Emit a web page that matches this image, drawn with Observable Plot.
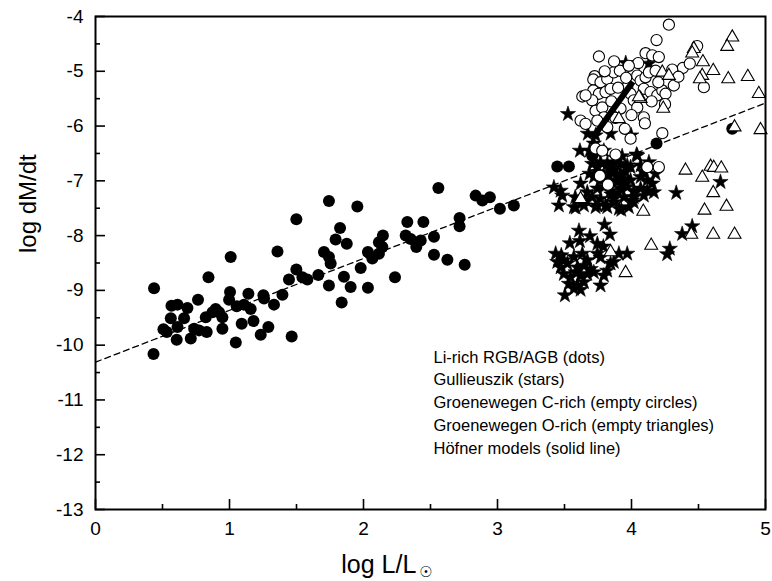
<!DOCTYPE html>
<html>
<head>
<meta charset="utf-8">
<script src="https://cdn.jsdelivr.net/npm/d3@7"></script>
<script src="https://cdn.jsdelivr.net/npm/@observablehq/plot@0.6"></script>
<style>
  html, body { margin: 0; padding: 0; background: white; }
</style>
</head>
<body>
<script>
// ---------- data (log L/Lsun, log dM/dt) ----------
const liRichDots = [
  [0.437,-8.96],[0.433,-10.16],[0.567,-9.28],[0.612,-9.26],[0.686,-9.32],[0.765,-9.17],
  [0.562,-9.51],[0.661,-9.51],[0.507,-9.71],[0.532,-9.76],[0.612,-9.67],[0.606,-9.90],
  [0.711,-9.88],[0.736,-9.70],[0.773,-9.73],[0.830,-9.76],[0.823,-9.49],[0.873,-9.40],
  [0.897,-9.34],[0.922,-9.40],[0.947,-9.49],[0.947,-9.70],[0.843,-8.76],[1.009,-8.39],
  [1.004,-9.03],[0.997,-9.17],[1.054,-9.29],[1.108,-9.26],[1.141,-9.06],[1.158,-9.34],
  [1.091,-9.61],[1.179,-9.56],[1.047,-9.95],[1.253,-9.09],[1.258,-9.15],[1.332,-9.26],
  [1.290,-9.67],[1.233,-9.81],[1.395,-9.08],[1.358,-8.29],[1.444,-8.80],[1.499,-8.62],
  [1.544,-8.76],[1.581,-8.80],[1.464,-9.84],[1.499,-7.70],[1.663,-8.72],[1.742,-7.37],
  [1.705,-8.30],[1.742,-8.39],[1.755,-8.51],[1.825,-7.86],[1.792,-8.07],[1.875,-8.15],
  [1.742,-8.91],[1.854,-8.75],[1.904,-8.94],[1.837,-9.22],[1.954,-7.47],[1.979,-8.59],
  [2.033,-8.30],[2.066,-8.42],[2.115,-8.33],[2.141,-8.21],[2.115,-8.12],[2.145,-8.00],
  [2.033,-8.95],[2.235,-8.76],[2.327,-7.75],[2.447,-7.75],[2.315,-8.00],[2.352,-8.06],
  [2.394,-8.21],[2.427,-8.09],[2.526,-8.02],[2.526,-8.35],[2.626,-8.44],[2.755,-8.53],
  [2.559,-7.13],[2.717,-7.68],[2.717,-7.83],[2.837,-7.27],[2.887,-7.36],[2.943,-7.30],
  [3.018,-7.51],[3.122,-7.45],[3.446,-6.74],[3.533,-6.74],[4.187,-6.32],[4.752,-6.05],
  [3.707,-6.54],[3.745,-6.45]
];

const gullieuszikStars = [
  [3.957,-4.85],[4.13,-4.86],[3.526,-5.78],[3.615,-6.45],[3.674,-6.14],[3.844,-6.14],
  [3.998,-6.17],[4.038,-6.52],[4.13,-6.66],[4.664,-7.02],[4.334,-7.22],[4.167,-7.21],
  [4.092,-7.27],[4.005,-7.36],[3.924,-7.53],[4.453,-7.83],[4.378,-7.97],[4.286,-8.24],
  [4.266,-8.34],[3.421,-7.12],[3.471,-7.18],[3.483,-7.27],[3.458,-7.45],[3.583,-7.49],
  [3.745,-7.45],[3.819,-7.48],[3.868,-7.39],
  [3.732,-6.17],[3.687,-6.45],[4.043,-6.54],[3.993,-6.75],[4.068,-6.72],[4.18,-6.87],
  [3.707,-6.69],[3.745,-6.75],[3.769,-6.66],[3.819,-6.69],[3.868,-6.66],[3.918,-6.69],
  [3.968,-6.72],[3.868,-6.81],[3.918,-6.87],[3.819,-6.87],[3.955,-6.84],[3.719,-6.93],
  [3.769,-6.99],[3.844,-6.99],[3.894,-7.02],[3.943,-6.96],[3.993,-6.99],[4.068,-6.93],
  [4.118,-6.99],[4.155,-7.05],[3.745,-7.14],[3.794,-7.11],[3.844,-7.18],[3.918,-7.14],
  [3.968,-7.11],[4.017,-7.18],[4.068,-7.14],[3.67,-7.21],[3.707,-7.30],[3.769,-7.33],
  [3.868,-7.33],[3.943,-7.30],[4.017,-7.30],[3.57,-7.48],[3.645,-7.45],[3.732,-7.48],
  [3.806,-7.45],[3.906,-7.51],[3.98,-7.48],[4.017,-7.39],[3.687,-6.87],[3.757,-6.84],
  [4.092,-6.84],[4.118,-7.18],[3.719,-6.32],[3.794,-6.45],[3.88,-6.58],[3.93,-6.55],
  [3.85,-7.25],[3.62,-7.05],[3.58,-7.30],[3.89,-6.92],[3.84,-6.78],[3.95,-7.05],
  [3.80,-6.95],[3.90,-7.22],[3.66,-7.35],
  [3.799,-7.80],[3.608,-7.91],[3.839,-7.98],[3.69,-8.01],[3.54,-8.14],[3.615,-8.10],
  [3.745,-8.15],[3.79,-8.20],[3.434,-8.33],[3.476,-8.36],[3.633,-8.33],[3.57,-8.39],
  [3.745,-8.33],[3.769,-8.40],[3.906,-8.33],[3.968,-8.33],[3.844,-8.51],[3.868,-8.48],
  [3.471,-8.58],[3.521,-8.51],[3.596,-8.58],[3.645,-8.55],[3.695,-8.61],[3.495,-8.70],
  [3.545,-8.76],[3.583,-8.67],[3.62,-8.73],[3.67,-8.70],[3.719,-8.67],[3.794,-8.73],
  [3.533,-8.88],[3.596,-8.91],[3.645,-8.85],[3.769,-8.91],[3.57,-8.97],[3.62,-8.99],
  [3.503,-9.09],[3.446,-8.48],[3.495,-8.45],[3.67,-8.45],[3.819,-8.64]
];

const cRichCircles = [
  [4.279,-4.15],[4.187,-4.43],[4.49,-4.54],[3.757,-4.73],[4.105,-4.67],[4.155,-4.71],
  [4.204,-4.74],[4.383,-4.94],[4.435,-4.86],[4.304,-4.97],[3.725,-5.09],[3.715,-5.15],
  [3.769,-5.20],[3.819,-5.14],[3.868,-5.02],[3.913,-4.99],[4.017,-4.99],[4.043,-5.08],
  [4.068,-5.17],[4.105,-5.11],[4.13,-5.02],[4.18,-4.99],[3.633,-5.46],[3.715,-5.35],
  [3.757,-5.41],[3.806,-5.38],[3.844,-5.32],[3.707,-5.53],[3.732,-5.72],[3.782,-5.66],
  [3.794,-5.84],[3.881,-5.75],[3.918,-5.68],[3.968,-5.29],[3.993,-5.41],[4.017,-5.53],
  [4.043,-5.66],[4.092,-5.32],[4.142,-5.38],[4.192,-5.44],[4.23,-5.35],[4.254,-5.41],
  [4.316,-5.26],[4.54,-5.29],[4.092,-5.84],[4.23,-6.13],[3.62,-5.90],[3.657,-5.96],
  [3.745,-5.90],[3.819,-6.02],[3.993,-6.23],[3.732,-6.41],[3.782,-6.45],[3.881,-6.52],
  [4.118,-6.75],[4.204,-6.75],[3.764,-6.91],[3.824,-7.07],[3.657,-5.44],
  [3.85,-5.55],[3.90,-5.30],[4.00,-5.80],[4.15,-5.55],[4.25,-5.60],[3.95,-6.05],
  [4.10,-5.95],[3.88,-5.85],[4.20,-5.20],[4.05,-4.85],[3.98,-4.90],[4.35,-5.10],
  [3.80,-5.00],[3.87,-4.82],[3.96,-5.12]
];

const oRichTriangles = [
  [4.752,-4.38],[4.714,-4.55],[4.465,-4.59],[4.453,-4.67],[4.533,-4.83],[4.61,-4.99],
  [4.528,-5.08],[4.51,-5.14],[4.722,-5.14],[4.868,-5.10],[4.95,-5.41],[4.23,-5.02],
  [4.279,-5.08],[4.068,-5.50],[4.237,-5.68],[3.906,-5.87],[4.769,-6.02],[4.963,-6.07],
  [4.055,-5.47],
  [4.403,-6.81],[4.59,-6.74],[4.614,-6.76],[4.67,-6.77],[4.528,-6.94],[4.61,-7.22],
  [3.62,-7.33],[4.088,-7.56],[4.545,-7.54],[4.709,-7.47],[4.446,-7.98],[4.61,-7.98],
  [4.769,-7.98],[4.147,-8.18],[3.844,-8.30],[3.956,-8.68]
];

const hofnerX = [3.71, 4.01];
const hofnerY = [-6.22, -5.19];

const fitX = [0, 5];
const fitY = [-10.31, -5.58];

const xTicks = [0, 1, 2, 3, 4, 5];
const xMinor = [0.5, 1.5, 2.5, 3.5, 4.5];
const yTicks = [-13, -12, -11, -10, -9, -8, -7, -6, -5, -4];
const yMinor = [-12.5, -11.5, -10.5, -9.5, -8.5, -7.5, -6.5, -5.5, -4.5];

const xLabel = "log L/L";
const xLabelSub = "\u2609";
const yLabel = "log dM/dt";
const legendLines = [
  "Li-rich RGB/AGB (dots)",
  "Gullieuszik (stars)",
  "Groenewegen C-rich (empty circles)",
  "Groenewegen O-rich (empty triangles)",
  "Höfner models (solid line)"
];

// ---------- chart ----------
const hofner = hofnerX.map((x, i) => ({x, y: hofnerY[i]}));
const fit = fitX.map((x, i) => ({x, y: fitY[i]}));
const noText = () => "";

const chart = Plot.plot({
  width: 772,
  height: 581,
  marginLeft: 95,
  marginRight: 7,
  marginTop: 16,
  marginBottom: 72,
  x: {domain: [0, 5]},
  y: {domain: [-13, -4]},
  style: {fontFamily: "'Liberation Sans', Arial, sans-serif", background: "white", color: "black"},
  marks: [
    Plot.axisX({ticks: xTicks, tickSize: 0, tickPadding: 12, fontSize: 19, label: null, tickFormat: d => String(d)}),
    Plot.axisX({ticks: xTicks, tickSize: -10, strokeWidth: 1.6, label: null, tickFormat: noText}),
    Plot.axisX({ticks: xMinor, tickSize: -5, strokeWidth: 1.6, label: null, tickFormat: noText}),
    Plot.axisY({ticks: yTicks, tickSize: 0, tickPadding: 12, fontSize: 19, label: null, tickFormat: d => String(d)}),
    Plot.axisY({ticks: yTicks, tickSize: -10, strokeWidth: 1.6, label: null, tickFormat: noText}),
    Plot.axisY({ticks: yMinor, tickSize: -5, strokeWidth: 1.6, label: null, tickFormat: noText}),
    Plot.dot(liRichDots, {x: d => d[0], y: d => d[1], r: 6, fill: "black", stroke: "none"}),
    Plot.line(fit, {x: "x", y: "y", stroke: "black", strokeWidth: 1.3, strokeDasharray: "6,4"}),
    Plot.dot(gullieuszikStars, {x: d => d[0], y: d => d[1], symbol: "star", r: 4.8, fill: "black", stroke: "black", strokeWidth: 0.6}),
    Plot.dot(cRichCircles, {x: d => d[0], y: d => d[1], r: 5.6, fill: "white", stroke: "black", strokeWidth: 1.1}),
    Plot.dot(oRichTriangles, {x: d => d[0], y: d => d[1], symbol: "triangle", r: 4.8, fill: "white", stroke: "black", strokeWidth: 1.1}),
    Plot.line(hofner, {x: "x", y: "y", stroke: "black", strokeWidth: 6, strokeLinecap: "butt"}),
    Plot.text([legendLines.join("\n")], {text: d => d, frameAnchor: "top-left", dx: 338, dy: 330, lineAnchor: "top", lineHeight: 1.38, fontSize: 16.5, textAnchor: "start"}),
    Plot.text([yLabel], {text: d => d, frameAnchor: "left", dx: -67, dy: -10, rotate: -90, fontSize: 24}),
    Plot.frame({stroke: "black", strokeWidth: 2})
  ]
});

document.body.append(chart);

// x-axis label with the solar symbol as a subscript
const svg = d3.select(chart);
const lab = svg.append("text")
  .attr("x", 387)
  .attr("y", 573)
  .attr("font-size", 25)
  .attr("font-family", "'Liberation Sans', Arial, sans-serif")
  .attr("fill", "black")
  .text(xLabel);
lab.append("tspan")
  .attr("font-size", 15)
  .attr("dx", 3)
  .attr("dy", 4)
  .attr("font-family", "'DejaVu Sans', sans-serif")
  .text(xLabelSub);
</script>
</body>
</html>
